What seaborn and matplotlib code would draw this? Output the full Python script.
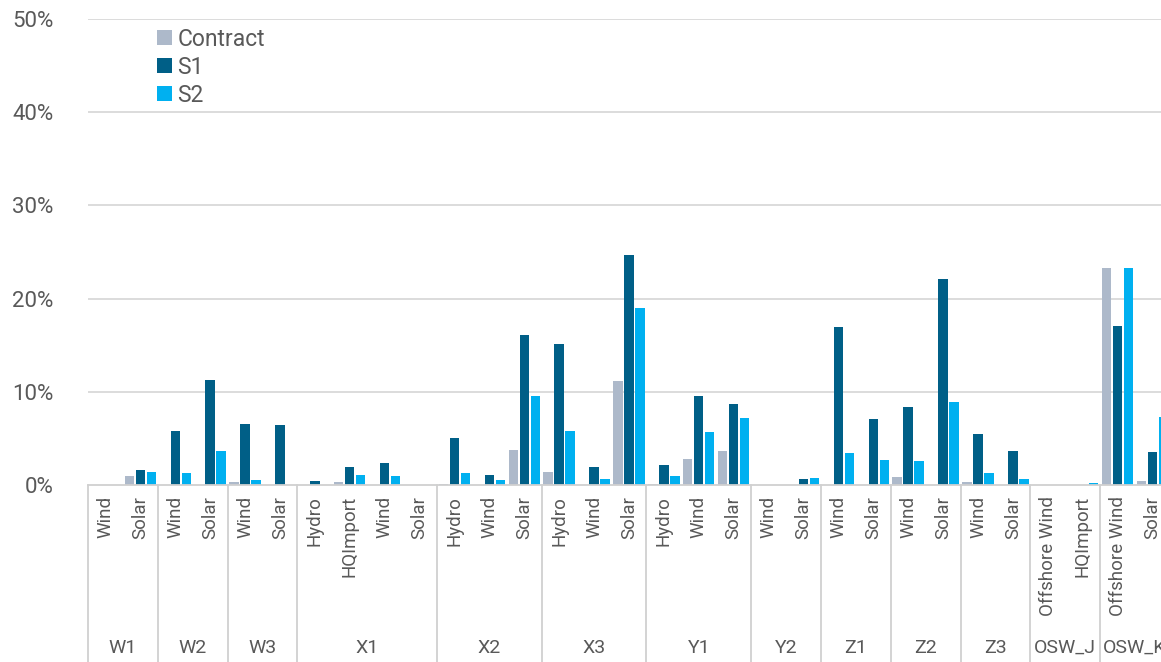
import numpy as np
import pandas as pd
import matplotlib
matplotlib.use("Agg")
import matplotlib.pyplot as plt
import matplotlib.transforms as mtransforms
from matplotlib.ticker import FuncFormatter
import seaborn as sns

# Category axis: outer groups and inner technologies
groups = ["W1", "W2", "W3", "X1", "X2", "X3", "Y1", "Y2", "Z1", "Z2", "Z3", "OSW_J", "OSW_K"]
group_sizes = [2, 2, 2, 4, 3, 3, 3, 2, 2, 2, 2, 2, 2]
techs = ["Wind", "Solar", "Wind", "Solar", "Wind", "Solar",
         "Hydro", "HQImport", "Wind", "Solar",
         "Hydro", "Wind", "Solar",
         "Hydro", "Wind", "Solar",
         "Hydro", "Wind", "Solar",
         "Wind", "Solar", "Wind", "Solar", "Wind", "Solar", "Wind", "Solar",
         "Offshore Wind", "HQImport", "Offshore Wind", "Solar"]

# Values in percent
contract = [0, 0.97, 0, 0, 0.29, 0, 0, 0.29, 0, 0, 0.14, 0, 3.80, 1.40, 0, 11.15,
            0.14, 2.83, 3.69, 0, 0, 0, 0, 0.90, 0, 0.29, 0, 0, 0, 23.23, 0.39]
s1 = [0, 1.61, 5.84, 11.29, 6.56, 6.45, 0.43, 1.97, 2.37, 0, 5.02, 1.11, 16.09, 15.13, 1.97, 24.70,
      2.11, 9.50, 8.64, 0, 0.65, 16.95, 7.03, 8.39, 22.15, 5.48, 3.69, 0, 0, 17.06, 3.55]
s2 = [0, 1.40, 1.25, 3.69, 0.54, 0, 0, 1.11, 1.00, 0, 1.25, 0.54, 9.50, 5.84, 0.65, 19.03,
      1.00, 5.73, 7.17, 0, 0.75, 3.44, 2.72, 2.58, 8.89, 1.25, 0.65, 0, 0.18, 23.23, 7.30]

series = ["Contract", "S1", "S2"]
colors = ["#ADB9CA", "#005F87", "#00B0F0"]

# long table for seaborn
grp_of_cat = [g for g, n in zip(groups, group_sizes) for _ in range(n)]
keys = [f"{g}|{t}" for g, t in zip(grp_of_cat, techs)]
rows = []
for name, vals in zip(series, [contract, s1, s2]):
    for k, v in zip(keys, vals):
        rows.append({"key": k, "series": name, "value": v})
df = pd.DataFrame(rows)

sns.set_style("white")
plt.rcParams["font.family"] = ["Roboto", "DejaVu Sans"]
text_col = "#595959"

W, H = 1161, 662
fig = plt.figure(figsize=(W / 100, H / 100), dpi=100)
ax = fig.add_axes([88 / W, 177 / H, (W - 88) / W, 466 / H])

sns.barplot(data=df, x="key", y="value", hue="series", order=keys, hue_order=series,
            palette=colors, width=0.945, gap=0.14, errorbar=None, ax=ax,
            saturation=1, linewidth=0)

ax.set_ylim(0, 50)
ax.set_xlim(-0.5, -0.5 + (W - 88) / 34.9)
ax.set_yticks([0, 10, 20, 30, 40, 50])
ax.yaxis.set_major_formatter(FuncFormatter(lambda v, p: f"{v:.0f}%"))
ax.tick_params(axis="y", length=0, pad=25, labelsize=16, labelcolor=text_col)
ax.set_xticks([])
ax.set_xlabel("")
ax.set_ylabel("")
for y in [10, 20, 30, 40, 50]:
    ax.axhline(y, color="#D9D9D9", lw=1.3, zorder=0)
for s in ["top", "right", "left"]:
    ax.spines[s].set_visible(False)
ax.spines["bottom"].set_color("#D0D0D0")
ax.spines["bottom"].set_linewidth(1.3)

# two-level category labels
trans = mtransforms.blended_transform_factory(ax.transData, fig.transFigure)
for i, t in enumerate(techs):
    ax.text(i, (H - 496) / H, t, rotation=90, ha="center", va="top",
            fontsize=13.5, color=text_col, transform=trans, clip_on=False)
start = 0
for g, n in zip(groups, group_sizes):
    ax.plot([start - 0.5, start - 0.5], [177 / H, 0], color="#D0D0D0", lw=1.3,
            transform=trans, clip_on=False)
    ax.text(start - 0.5 + n / 2, (H - 648) / H, g, ha="center", va="center",
            fontsize=14, color=text_col, transform=trans, clip_on=False)
    start += n

handles, labels = ax.get_legend_handles_labels()
ax.legend(handles, labels, loc="upper left", bbox_to_anchor=(136 / W, 1 - 7 / H),
          bbox_transform=fig.transFigure, frameon=False, fontsize=16.5,
          handlelength=0.65, handleheight=0.65, handletextpad=0.25,
          labelspacing=0.22, labelcolor=text_col)

fig.savefig("out.png", dpi=100)
